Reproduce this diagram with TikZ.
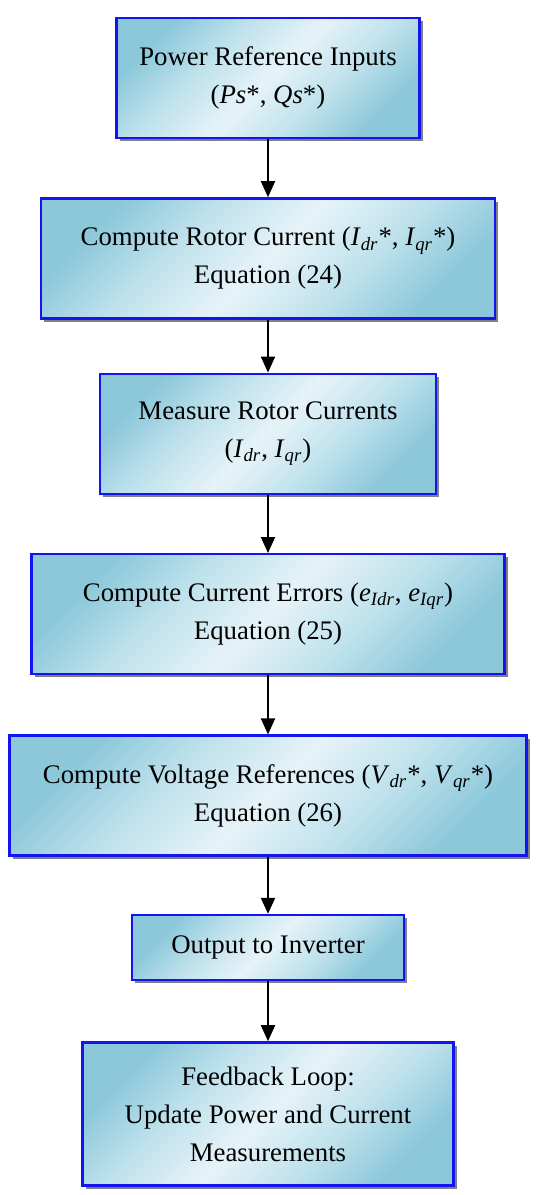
\documentclass[tikz,border=0pt]{standalone}
\usepackage{fontspec}
\setmainfont{Liberation Serif}
\usepackage{xcolor}
\usepackage{tikz}
\usetikzlibrary{arrows.meta,positioning,shadows}
\definecolor{boxdark}{RGB}{140,200,218}
\definecolor{boxmid}{RGB}{190,225,236}
\definecolor{boxlight}{RGB}{230,243,248}
\definecolor{boxedge}{RGB}{20,20,240}
\pgfdeclarehorizontalshading{boxshade}{100bp}{color(0bp)=(boxdark); color(25bp)=(boxdark);
  color(37bp)=(boxmid); color(50bp)=(boxlight); color(63bp)=(boxmid); color(75bp)=(boxdark); color(100bp)=(boxdark)}

\begin{document}
\begin{tikzpicture}[font=\fontsize{13.4}{19}\selectfont,>={Triangle[length=8pt,width=7pt]},node distance=29pt,
  blk/.style={draw=boxedge,line width=1.2pt,shading=boxshade,shading angle=135,
    minimum height=60pt,align=center,inner sep=2pt,
    drop shadow={shadow xshift=1.6pt,shadow yshift=-1.6pt,fill=black!50,opacity=1}},
  conn/.style={->,line width=1pt}]
\useasboundingbox (0,0) rectangle (275pt,-597.5pt);
\node[blk,minimum width=151.5pt] (refin) at (134pt,-39pt) {Power Reference Inputs\\(\textit{Ps}*, \textit{Qs}*)};
\node[blk,minimum width=227pt,below=of refin] (rotref) {Compute Rotor Current (\textit{I}\textsubscript{\textit{dr}}*, \textit{I}\textsubscript{\textit{qr}}*)\\Equation (24)};
\node[blk,minimum width=168pt,below=26.5pt of rotref] (meas) {Measure Rotor Currents\\(\textit{I}\textsubscript{\textit{dr}}, \textit{I}\textsubscript{\textit{qr}})};
\node[blk,minimum width=236.5pt,below=of meas] (err) {Compute Current Errors (\textit{e}\textsubscript{\textit{Idr}}, \textit{e}\textsubscript{\textit{Iqr}})\\Equation (25)};
\node[blk,minimum width=258.5pt,below=29.5pt of err] (vref) {Compute Voltage References (\textit{V}\textsubscript{\textit{dr}}*, \textit{V}\textsubscript{\textit{qr}}*)\\Equation (26)};
\node[blk,minimum width=136pt,minimum height=32.5pt,below=28.5pt of vref] (inv) {Output to Inverter};
\node[blk,minimum width=185.5pt,minimum height=71.5pt,below=30pt of inv] (fb) {Feedback Loop:\\Update Power and Current\\Measurements};
\draw[conn] (refin)--(rotref); \draw[conn] (rotref)--(meas);
\draw[conn] (meas)--(err); \draw[conn] (err)--(vref);
\draw[conn] (vref)--(inv); \draw[conn] (inv)--(fb);
\end{tikzpicture}
\end{document}
